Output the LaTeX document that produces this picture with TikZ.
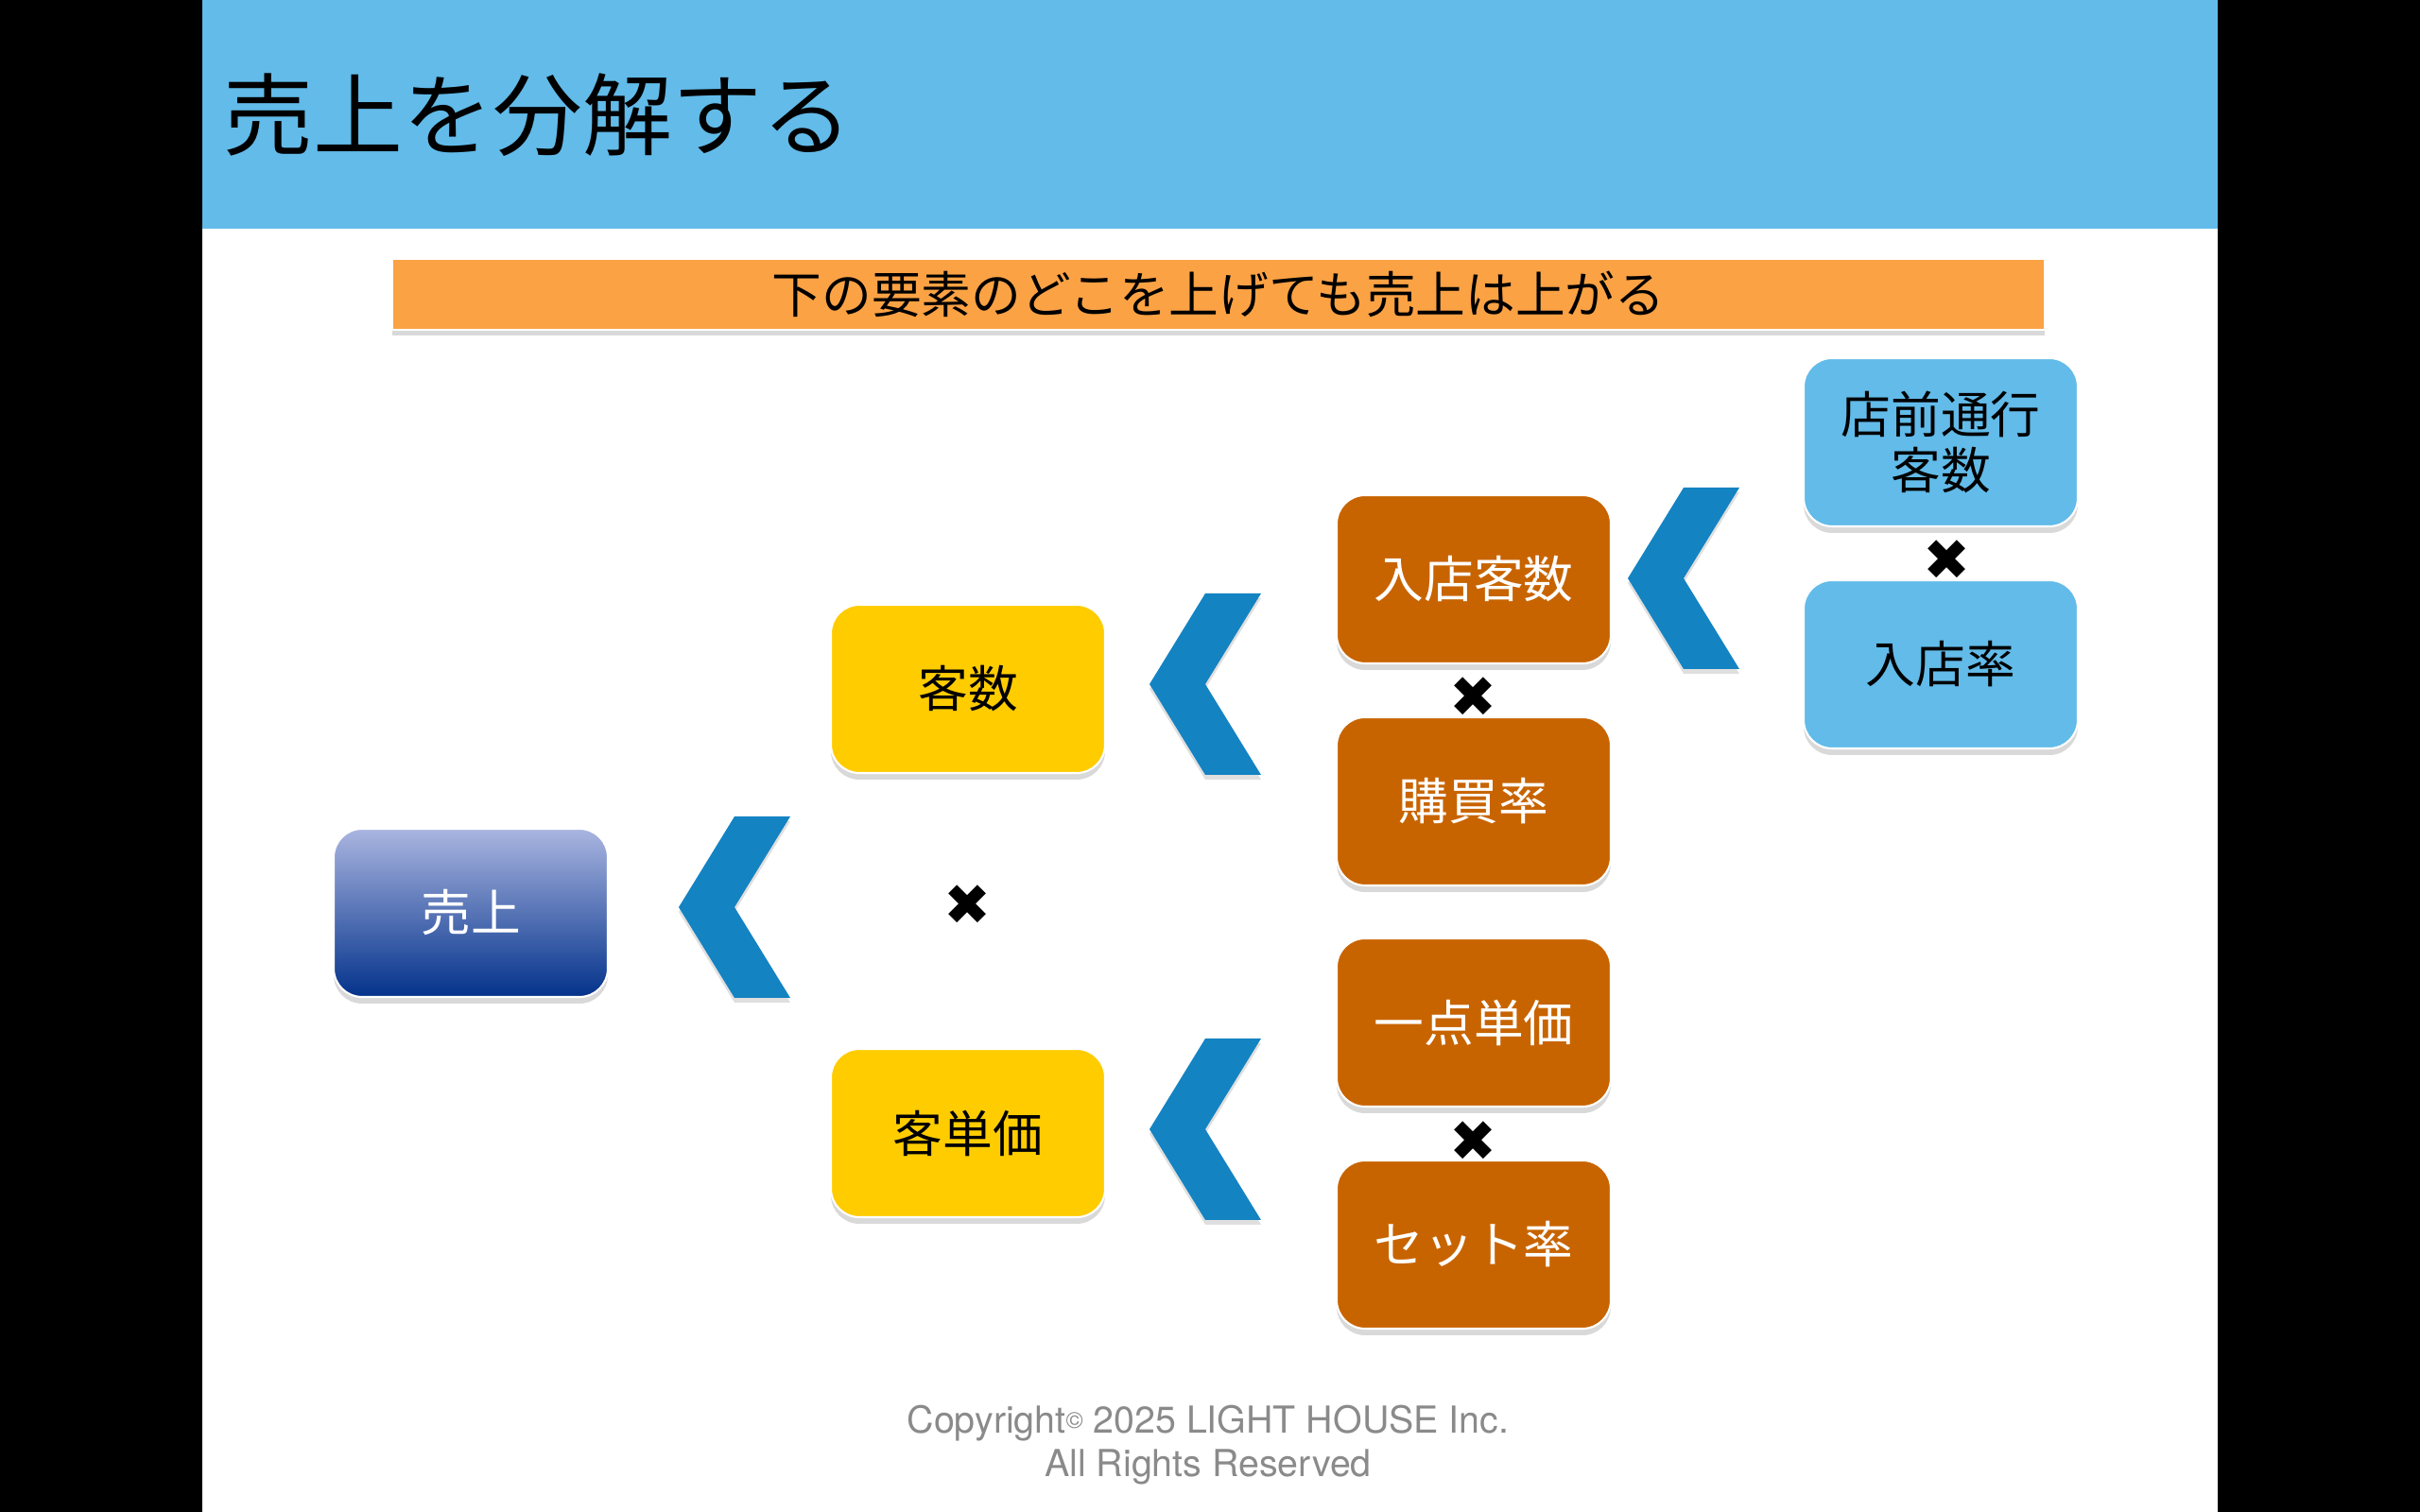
\documentclass[tikz,border=0pt]{standalone}
\usepackage{fontspec}
\setmainfont{TeX Gyre Heros}
\newfontfamily\jpfont{Noto Sans CJK JP}
\newfontfamily\symfont{DejaVu Sans}
\usetikzlibrary{shadows}

\definecolor{headblue}{HTML}{62BBE9}
\definecolor{bannerorange}{HTML}{FBA244}
\definecolor{boxyellow}{HTML}{FFCC00}
\definecolor{boxbrown}{HTML}{C86400}
\definecolor{chevblue}{HTML}{1483C2}
\definecolor{salestop}{HTML}{AAB5E0}
\definecolor{salesbot}{HTML}{03328B}
\definecolor{footgray}{HTML}{8A8A8A}

\tikzset{factor/.style={rounded corners=0.3cm,minimum width=2.9cm,minimum height=1.78cm,draw=white,line width=0.6pt,
    drop shadow={shadow xshift=0pt,shadow yshift=-0.07cm,opacity=0.3},
    font=\jpfont\fontsize{15}{17}\selectfont,align=center}}
\tikzset{brownbox/.style={factor,fill=boxbrown,text=white}}
\tikzset{yellowbox/.style={factor,fill=boxyellow}}
\tikzset{skybox/.style={factor,fill=headblue}}
\tikzset{timesmark/.style={font=\symfont\fontsize{17}{17}\selectfont,inner sep=0pt}}
\tikzset{chev/.pic={\fill[chevblue,drop shadow={shadow xshift=0pt,shadow yshift=-0.05cm,opacity=0.25}]
    (0,0) -- (0.59,0.96) -- (1.18,0.96) -- (0.59,0) -- (1.18,-0.96) -- (0.59,-0.96) -- cycle;}}

\begin{document}
\begin{tikzpicture}
        \useasboundingbox (0,0) rectangle (25.6,16);
        \fill[black] (0,0) rectangle (2.14,16);
        \fill[black] (23.46,0) rectangle (25.6,16);
        \fill[headblue] (2.14,13.58) rectangle (23.46,16);
        \node[anchor=west,inner sep=0pt,font=\jpfont\fontsize{27}{30}\selectfont] (title) at (2.36,14.78) {売上を分解する};
        \node[fill=bannerorange,draw=white,line width=0.6pt,minimum width=17.48cm,minimum height=0.75cm,
              drop shadow={shadow xshift=0pt,shadow yshift=-0.06cm,opacity=0.3},
              font=\jpfont\fontsize{15}{17}\selectfont] (banner) at (12.89,12.885) {下の要素のどこを上げても売上は上がる};
        % boxes
        \node[factor,top color=salestop,bottom color=salesbot,text=white] (sales) at (4.98,6.34) {売上};
        \node[yellowbox] (visitors) at (10.24,8.71) {客数};
        \node[yellowbox] (avgspend) at (10.24,4.01) {客単価};
        \node[brownbox] (entrants) at (15.59,9.87) {入店客数};
        \node[brownbox] (buyrate) at (15.59,7.52) {購買率};
        \node[brownbox] (unitprice) at (15.59,5.18) {一点単価};
        \node[brownbox] (setrate) at (15.59,2.83) {セット率};
        \node[skybox] (passers) at (20.53,11.32) {店前通行\\客数};
        \node[skybox] (entryrate) at (20.53,8.97) {入店率};
        % chevrons
        \pic at (7.18,6.40) {chev};
        \pic at (12.16,8.76) {chev};
        \pic at (12.16,4.05) {chev};
        \pic at (17.22,9.88) {chev};
        % times marks
        \node[timesmark] (x1) at (10.24,6.42) {✖};
        \node[timesmark] (x2) at (15.59,8.62) {✖};
        \node[timesmark] (x3) at (15.59,3.92) {✖};
        \node[timesmark] (x4) at (20.60,10.07) {✖};
        \node[align=center,text=footgray,font=\fontsize{11.2}{13}\selectfont] (copy) at (12.78,0.71)
              {Copyright{\scriptsize\raisebox{0.4ex}{©}} 2025 LIGHT HOUSE Inc.\\All Rights Reserved};
\end{tikzpicture}
\end{document}
